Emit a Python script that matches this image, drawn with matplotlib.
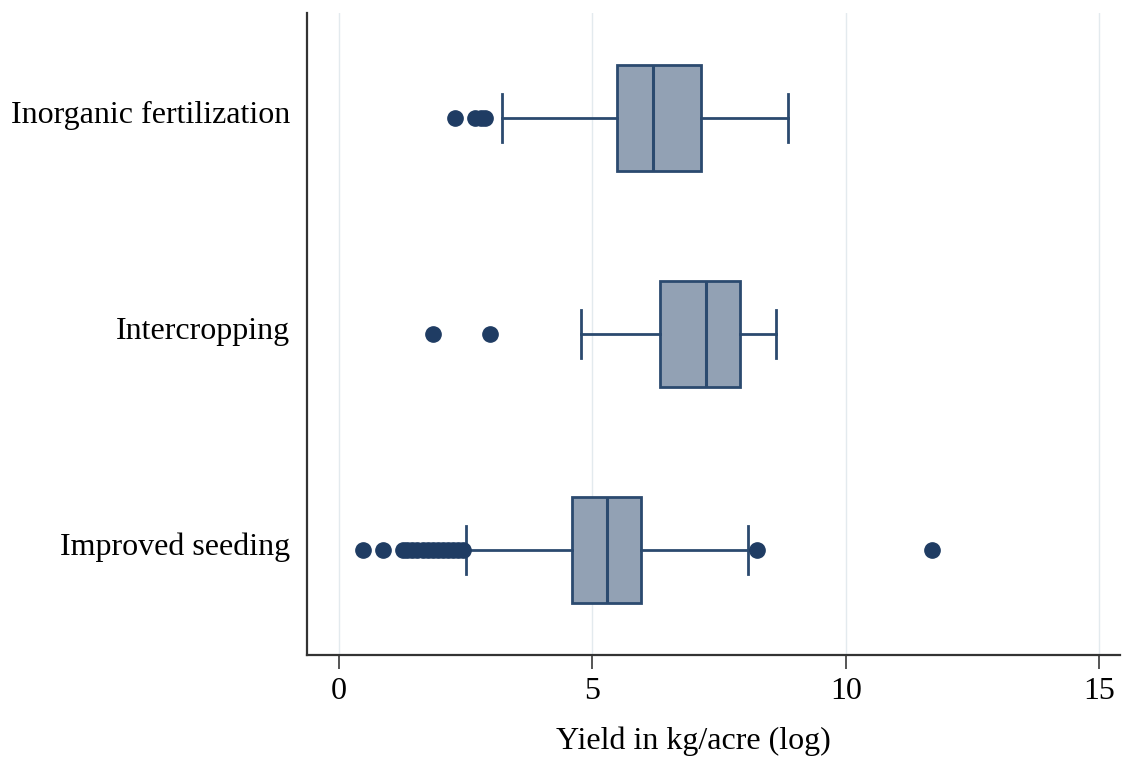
import matplotlib
matplotlib.use("Agg")
import matplotlib.pyplot as plt
from matplotlib.transforms import ScaledTranslation

# treatments, top to bottom
groups = ["Inorganic fertilization", "Intercropping", "Improved seeding"]

# five-number summaries (log yield)
whislo = [3.21, 4.77, 2.50]
q1 = [5.48, 6.34, 4.60]
med = [6.19, 7.24, 5.28]
q3 = [7.15, 7.91, 5.96]
whishi = [8.86, 8.62, 8.07]

fliers = [
    [2.29, 2.68, 2.80, 2.88],
    [1.86, 2.98],
    [0.48, 0.87, 1.27, 1.35, 1.45, 1.55, 1.65, 1.75, 1.85, 1.95,
     2.05, 2.15, 2.25, 2.35, 2.45, 8.24, 11.70],
]

xticks = [0, 5, 10, 15]

plt.rcParams["font.family"] = ["Liberation Serif", "DejaVu Serif"]

fig = plt.figure(figsize=(11.22, 7.59), dpi=100)
ax = fig.add_axes([307 / 1122, 1 - 655 / 759, (1120 - 307) / 1122, (655 - 13) / 759])

stats = []
for i in range(len(groups)):
    stats.append({
        "whislo": whislo[i], "q1": q1[i], "med": med[i],
        "q3": q3[i], "whishi": whishi[i], "fliers": fliers[i],
    })

edge = "#2b4a6f"
positions = [3, 2, 1]
ax.bxp(
    stats, positions=positions, vert=False, widths=0.495,
    patch_artist=True, showfliers=True,
    boxprops=dict(facecolor="#92a1b4", edgecolor=edge, linewidth=2),
    medianprops=dict(color=edge, linewidth=2.2),
    whiskerprops=dict(color=edge, linewidth=2),
    capprops=dict(color=edge, linewidth=2),
    capwidths=0.22,
    flierprops=dict(marker="o", markersize=11, markerfacecolor="#1f3c63",
                    markeredgecolor="#1f3c63", linestyle="none"),
)

ax.set_xlim(-0.63, 15.41)
ax.set_ylim(0.514, 3.486)
ax.set_xticks(xticks)
ax.set_xticklabels([str(t) for t in xticks])
ax.set_yticks(positions)
ax.set_yticklabels(groups)

ax.grid(axis="x", color="#e3eaee", linewidth=1)
ax.set_axisbelow(True)
for s in ["top", "right"]:
    ax.spines[s].set_visible(False)
for s in ["left", "bottom"]:
    ax.spines[s].set_linewidth(1.6)
    ax.spines[s].set_color("#333333")

ax.tick_params(axis="x", length=10, width=1.4, color="#555555", labelsize=23, pad=6)
ax.tick_params(axis="y", length=0, labelsize=23, pad=12)

# category labels sit a little above the box centres
shift = ScaledTranslation(0, 6 / 100, fig.dpi_scale_trans)
for lab in ax.get_yticklabels():
    lab.set_transform(lab.get_transform() + shift)

ax.set_xlabel("Yield in kg/acre (log)", fontsize=23)
ax.xaxis.set_label_coords((693 - 307) / 813, -(727 - 655) / 642)

fig.savefig("out.png", dpi=100)
